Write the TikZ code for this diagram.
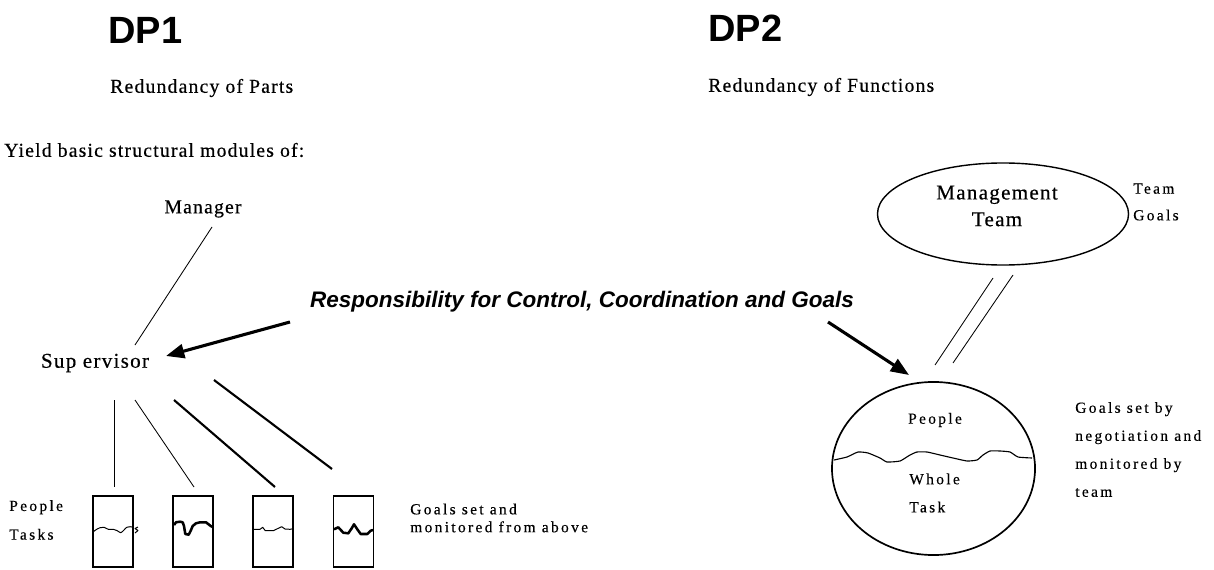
\documentclass[tikz,border=0pt]{standalone}
\usepackage{fontspec}
\setmainfont{Liberation Serif}
\newfontfamily\bigserif[LetterSpace=6,FakeBold=0.4]{Liberation Serif}
\newfontfamily\smallserif[LetterSpace=15,FakeBold=0.3]{Liberation Serif}
\newfontfamily\headfont{Liberation Sans}
\usetikzlibrary{shapes.geometric,arrows.meta}
\tikzset{
  dptitle/.style={anchor=west,inner sep=0pt,font=\headfont\bfseries\fontsize{27}{31}\selectfont},
  bigtext/.style={inner sep=0pt,font=\bigserif\fontsize{14}{17}\selectfont},
  smalltext/.style={inner sep=0pt,font=\smallserif\fontsize{11}{13}\selectfont},
  taskbox/.style={draw,line width=1.1pt,minimum width=1cm,minimum height=1.775cm,inner sep=0pt},
  thinline/.style={line width=0.6pt},
  thickline/.style={line width=1.5pt},
  bigarrow/.style={line width=2.2pt,-{Triangle[length=13pt,width=10pt]}},
  wavethin/.style={line width=0.7pt,line join=round},
  wavethick/.style={line width=1.8pt,line join=round},
}
\begin{document}
\begin{tikzpicture}[x=0.025cm,y=-0.025cm]
\fill[white] (0,0) rectangle (1214,570);
\useasboundingbox (0,0) rectangle (1214,570);

\node[dptitle] (dp1) at (108,30) {DP1};
\node[dptitle] (dp2) at (708,28) {DP2};
\node[bigtext,anchor=west] (parts) at (110,88) {Redundancy of Parts};
\node[bigtext,anchor=west] (funcs) at (708,87) {Redundancy of Functions};
\node[bigtext,anchor=west] (yield) at (4,150) {Yield basic structural modules of:};

%-------------------------------------
\node[bigtext] (mgr) at (203,209) {Manager};
\node[bigtext,font=\bigserif\fontsize{15}{17}\selectfont] (sup) at (95,363) {Sup ervisor};
\coordinate (m1) at (212,227);
\coordinate (s0) at (135,345);
\draw[thinline] (m1) -- (s0);

\node[taskbox] (box1) at (113,531.5) {};
\node[taskbox] (box2) at (193,531.5) {};
\node[taskbox] (box3) at (273,531.5) {};
\node[taskbox] (box4) at (353.5,531.5) {};

\coordinate (s1) at (114,400);
\coordinate (s2) at (135,400);
\coordinate (s3) at (174,400);
\coordinate (s4) at (214,380);
\coordinate (t1) at (114,487);
\coordinate (t2) at (194,487);
\coordinate (t3) at (275,487);
\coordinate (t4) at (332,469);
\draw[thinline] (s1) -- (t1);
\draw[thinline] (s2) -- (t2);
\draw[thickline] (s3) -- (t3);
\draw[thickline] (s4) -- (t4);

\draw[wavethin] plot[smooth,tension=0.5] coordinates {(93.3,531.7) (96.7,529.3) (100,527.7) (104,527.3) (108.3,529.3) (113.3,529.3) (117.3,530.7) (120.7,532.7) (124,530) (126.7,527.3) (130,526.7) (133.3,527.3)};
\draw[wavethin] (138,527) -- (135,528.5) -- (138,530.5) -- (135,533);
\draw[wavethick] (174,525) -- (176,522.3) -- (180,521.7) -- (182.7,522.3) -- (184,526) -- (185.3,534) -- (188.7,534.7) -- (190.7,530.7) -- (192.7,526) -- (196,523.3) -- (200,522.3) -- (206,522.3) -- (210.7,526) -- (213.3,527.3);
\draw[wavethin] (252.7,529.3) -- (260,529.3) -- (262.7,527.3) -- (265.3,530.7) -- (273.3,530.7) -- (278.3,528.3) -- (281.7,526.7) -- (285,529) -- (290,529.3) -- (293,528.7);
\draw[wavethick] (334,529.3) -- (338.3,527.3) -- (343.3,532.7) -- (348.3,533.3) -- (351.7,528.3) -- (354,524.3) -- (357.3,529.3) -- (360.7,534) -- (367.3,534) -- (370.7,530.7) -- (373,530);

\node[smalltext,anchor=west,align=left,font=\smallserif\fontsize{11}{20.4}\selectfont] (ptasks) at (9,520) {People\\Tasks};
\node[smalltext,anchor=west,align=left,font=\smallserif\fontsize{11}{12.7}\selectfont] (above) at (410,518) {Goals set and\\monitored from above};

%-------------------------------------
\node[inner sep=0pt,font=\headfont\bfseries\itshape\fontsize{16}{19}\selectfont] (resp) at (582,302) {Responsibility for Control, Coordination and Goals};
\coordinate (la) at (290,322);
\coordinate (lb) at (166,356);
\coordinate (ra) at (828,322);
\coordinate (rb) at (909,375);
\draw[bigarrow] (la) -- (lb);
\draw[bigarrow] (ra) -- (rb);

%-------------------------------------
\node[draw,ellipse,line width=1pt,minimum width=6.275cm,minimum height=2.55cm] (mteam) at (1003,214) {};
\node[bigtext,align=center,font=\bigserif\fontsize{15}{19}\selectfont] (mtext) at (997,206) {Management\\Team};
\node[smalltext,anchor=west,align=left,font=\smallserif\fontsize{11}{19}\selectfont] (tgoals) at (1133,202) {Team\\Goals};

\node[draw,ellipse,line width=1.2pt,minimum width=5.075cm,minimum height=4.325cm] (group) at (933.5,468.5) {};
\coordinate (d1) at (993,278);
\coordinate (d2) at (935,365);
\coordinate (d3) at (1013,275);
\coordinate (d4) at (953,363);
\draw[thinline] (d1) -- (d2);
\draw[thinline] (d3) -- (d4);

\draw[line width=0.8pt,line join=round] plot[smooth,tension=0.3] coordinates {(834,460) (847,457) (858,452) (868,453) (880,458) (887,462) (900,461) (910,455) (917,452) (927,452) (940,455) (953,458) (967,461) (977,460) (983,455) (990,451) (1000,451) (1010,452) (1018,457) (1032,458)};

\node[smalltext] (people) at (935,420) {People};
\node[smalltext,anchor=west,align=left,font=\smallserif\fontsize{11}{20}\selectfont] (wtask) at (909,493) {Whole\\Task};
\node[smalltext,anchor=west,align=left,font=\smallserif\fontsize{11}{19.9}\selectfont] (bygoals) at (1075,449.5) {Goals set by\\negotiation and\\monitored by\\team};
\end{tikzpicture}
\end{document}
